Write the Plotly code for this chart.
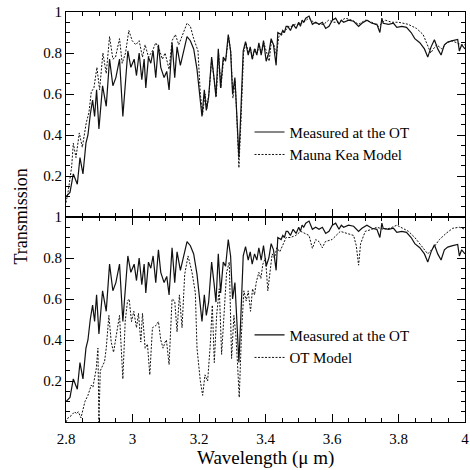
import plotly.graph_objects as go
from plotly.subplots import make_subplots

# Measured transmission at the OT (same measurement shown in both panels)
meas_wl = [2.800, 2.812, 2.822, 2.828, 2.834, 2.842, 2.851, 2.860, 2.866, 2.873, 2.880, 2.886, 2.892, 2.899,
           2.910, 2.921, 2.931, 2.941, 2.950, 2.961, 2.971, 2.986, 2.995, 3.005, 3.012, 3.020, 3.028, 3.035,
           3.040, 3.048, 3.055, 3.062, 3.070, 3.078, 3.085, 3.095, 3.103, 3.110, 3.119, 3.127, 3.134, 3.144,
           3.154, 3.164, 3.174, 3.184, 3.194, 3.204, 3.209, 3.216, 3.222, 3.229, 3.238, 3.245, 3.251, 3.258,
           3.265, 3.273, 3.280, 3.288, 3.295, 3.301, 3.308, 3.313, 3.320, 3.326, 3.333, 3.340, 3.348, 3.354,
           3.360, 3.367, 3.374, 3.380, 3.387, 3.394, 3.402, 3.410, 3.417, 3.424, 3.432, 3.437, 3.447, 3.452,
           3.457, 3.462, 3.467, 3.475, 3.483, 3.492, 3.500, 3.505, 3.510, 3.515, 3.521, 3.531, 3.541, 3.551,
           3.561, 3.571, 3.581, 3.591, 3.601, 3.611, 3.621, 3.628, 3.635, 3.650, 3.665, 3.680, 3.690, 3.705,
           3.720, 3.735, 3.744, 3.750, 3.754, 3.770, 3.785, 3.795, 3.810, 3.824, 3.838, 3.849, 3.864, 3.878,
           3.888, 3.898, 3.908, 3.918, 3.928, 3.938, 3.948, 3.963, 3.978, 3.983, 3.990, 4.000]
meas_tr = [0.10, 0.12, 0.21, 0.18, 0.16, 0.29, 0.21, 0.36, 0.40, 0.50, 0.57, 0.49, 0.62, 0.43,
           0.64, 0.54, 0.77, 0.64, 0.68, 0.77, 0.49, 0.81, 0.73, 0.77, 0.69, 0.80, 0.67, 0.77,
           0.63, 0.78, 0.75, 0.81, 0.68, 0.84, 0.73, 0.68, 0.71, 0.62, 0.85, 0.68, 0.83, 0.74,
           0.81, 0.88, 0.86, 0.82, 0.72, 0.55, 0.49, 0.62, 0.52, 0.585, 0.78, 0.68, 0.585, 0.82,
           0.63, 0.78, 0.76, 0.89, 0.81, 0.60, 0.68, 0.52, 0.29, 0.52, 0.81, 0.855, 0.79, 0.83,
           0.77, 0.82, 0.79, 0.85, 0.79, 0.86, 0.76, 0.80, 0.87, 0.84, 0.74, 0.90, 0.89, 0.91,
           0.90, 0.93, 0.93, 0.91, 0.94, 0.92, 0.95, 0.93, 0.96, 0.95, 0.97, 0.98, 0.94, 0.95,
           0.94, 0.95, 0.92, 0.93, 0.96, 0.97, 0.94, 0.96, 0.95, 0.96, 0.955, 0.93, 0.945, 0.96,
           0.945, 0.94, 0.90, 0.97, 0.945, 0.94, 0.945, 0.925, 0.93, 0.925, 0.90, 0.87, 0.85, 0.82,
           0.78, 0.83, 0.865, 0.82, 0.79, 0.84, 0.853, 0.86, 0.866, 0.81, 0.84, 0.82]

# Mauna Kea model (top panel)
mk_wl = [2.800, 2.807, 2.817, 2.822, 2.830, 2.840, 2.849, 2.861, 2.869, 2.876, 2.884, 2.893, 2.901, 2.911,
         2.921, 2.931, 2.941, 2.949, 2.961, 2.969, 2.979, 2.989, 2.999, 3.010, 3.020, 3.030, 3.038, 3.048,
         3.060, 3.070, 3.080, 3.090, 3.098, 3.110, 3.119, 3.129, 3.139, 3.149, 3.164, 3.174, 3.184, 3.197,
         3.204, 3.211, 3.218, 3.224, 3.231, 3.238, 3.246, 3.252, 3.259, 3.266, 3.274, 3.281, 3.289, 3.296,
         3.302, 3.309, 3.314, 3.320, 3.327, 3.334, 3.341, 3.349, 3.355, 3.361, 3.368, 3.375, 3.381, 3.388,
         3.395, 3.403, 3.411, 3.418, 3.425, 3.433, 3.440, 3.450, 3.460, 3.470, 3.480, 3.490, 3.500, 3.515,
         3.530, 3.545, 3.560, 3.575, 3.590, 3.605, 3.620, 3.640, 3.660, 3.680, 3.700, 3.720, 3.740, 3.760,
         3.780, 3.800, 3.829, 3.854, 3.874, 3.888, 3.897, 3.905, 3.915, 3.930, 3.945, 3.960, 3.975,
         3.990, 4.000]
mk_tr = [0.07, 0.13, 0.245, 0.36, 0.29, 0.41, 0.34, 0.46, 0.51, 0.61, 0.63, 0.73, 0.62, 0.80,
         0.70, 0.88, 0.77, 0.78, 0.87, 0.75, 0.80, 0.91, 0.86, 0.84, 0.86, 0.78, 0.84, 0.78,
         0.81, 0.85, 0.82, 0.77, 0.80, 0.72, 0.86, 0.89, 0.84, 0.88, 0.945, 0.93, 0.87, 0.81,
         0.60, 0.50, 0.60, 0.53, 0.62, 0.77, 0.66, 0.59, 0.80, 0.63, 0.77, 0.77, 0.88, 0.80,
         0.58, 0.66, 0.48, 0.24, 0.50, 0.80, 0.85, 0.80, 0.82, 0.77, 0.82, 0.80, 0.84, 0.80,
         0.85, 0.81, 0.76, 0.86, 0.84, 0.79, 0.88, 0.89, 0.91, 0.93, 0.93, 0.94, 0.94, 0.95,
         0.97, 0.95, 0.94, 0.94, 0.96, 0.95, 0.95, 0.97, 0.96, 0.94, 0.96, 0.95, 0.93, 0.96,
         0.95, 0.95, 0.94, 0.92, 0.89, 0.83, 0.80, 0.82, 0.84, 0.82, 0.85, 0.86, 0.85,
         0.84, 0.84]

# OT model (bottom panel)
ot_wl = [2.800, 2.806, 2.815, 2.826, 2.832, 2.837, 2.845, 2.857, 2.866, 2.876, 2.881, 2.891, 2.896, 2.899,
         2.903, 2.916, 2.921, 2.929, 2.936, 2.943, 2.951, 2.961, 2.971, 2.978, 2.985, 2.990, 2.997, 3.004,
         3.012, 3.018, 3.025, 3.030, 3.038, 3.045, 3.052, 3.060, 3.070, 3.078, 3.085, 3.092, 3.098, 3.102,
         3.110, 3.119, 3.127, 3.134, 3.141, 3.149, 3.157, 3.167, 3.179, 3.189, 3.194, 3.204, 3.211, 3.218,
         3.226, 3.234, 3.240, 3.246, 3.253, 3.261, 3.268, 3.276, 3.283, 3.291, 3.298, 3.305, 3.311, 3.316,
         3.321, 3.328, 3.335, 3.342, 3.348, 3.355, 3.361, 3.367, 3.372, 3.380, 3.386, 3.392, 3.400, 3.407,
         3.412, 3.420, 3.427, 3.434, 3.443, 3.452, 3.462, 3.475, 3.491, 3.506, 3.521, 3.531, 3.541, 3.551,
         3.561, 3.571, 3.580, 3.600, 3.625, 3.645, 3.665, 3.673, 3.680, 3.686, 3.700, 3.720, 3.735, 3.755,
         3.774, 3.795, 3.814, 3.830, 3.849, 3.864, 3.879, 3.888, 3.905, 3.923, 3.943, 3.963, 3.983, 4.000]
ot_tr = [0.00, 0.02, 0.03, 0.05, 0.04, 0.05, 0.02, 0.10, 0.13, 0.18, 0.17, 0.26, 0.36, 0.00,
         0.25, 0.295, 0.36, 0.52, 0.39, 0.34, 0.42, 0.52, 0.21, 0.49, 0.59, 0.60, 0.49, 0.54,
         0.46, 0.53, 0.39, 0.53, 0.36, 0.38, 0.23, 0.46, 0.47, 0.49, 0.40, 0.36, 0.39, 0.40,
         0.28, 0.60, 0.59, 0.44, 0.62, 0.46, 0.72, 0.81, 0.73, 0.63, 0.36, 0.20, 0.13, 0.23,
         0.20, 0.38, 0.57, 0.29, 0.52, 0.65, 0.33, 0.55, 0.73, 0.78, 0.31, 0.52, 0.42, 0.28,
         0.12, 0.44, 0.64, 0.59, 0.64, 0.54, 0.65, 0.62, 0.68, 0.73, 0.70, 0.77, 0.80, 0.64,
         0.72, 0.82, 0.80, 0.85, 0.83, 0.86, 0.90, 0.90, 0.91, 0.93, 0.92, 0.91, 0.847, 0.89,
         0.88, 0.85, 0.88, 0.89, 0.93, 0.92, 0.91, 0.86, 0.765, 0.87, 0.93, 0.94, 0.95, 0.94,
         0.945, 0.96, 0.945, 0.93, 0.90, 0.87, 0.84, 0.82, 0.85, 0.89, 0.92, 0.945, 0.95, 0.94]

x_tickvals = [2.8, 3.0, 3.2, 3.4, 3.6, 3.8, 4.0]
x_ticktext = ["2.8", "3", "3.2", "3.4", "3.6", "3.8", "4"]
y_tickvals = [0.2, 0.4, 0.6, 0.8, 1.0]
y_ticktext = ["0.2", "0.4", "0.6", "0.8", "1"]

FONT = "Liberation Serif"
solid = dict(color="#111111", width=1.2)
dotted = dict(color="#111111", width=1, dash="2px,1.5px")

fig = make_subplots(rows=2, cols=1, shared_xaxes=True, vertical_spacing=0)

fig.add_trace(go.Scatter(x=meas_wl, y=meas_tr, mode="lines", line=solid,
                         name="Measured at the OT", legend="legend"), row=1, col=1)
fig.add_trace(go.Scatter(x=mk_wl, y=mk_tr, mode="lines", line=dotted,
                         name="Mauna Kea Model", legend="legend"), row=1, col=1)
fig.add_trace(go.Scatter(x=meas_wl, y=meas_tr, mode="lines", line=solid,
                         name="Measured at the OT", legend="legend2"), row=2, col=1)
fig.add_trace(go.Scatter(x=ot_wl, y=ot_tr, mode="lines", line=dotted,
                         name="OT Model", legend="legend2"), row=2, col=1)

axis_common = dict(showline=True, linecolor="black", linewidth=1, mirror="allticks",
                   ticks="inside", ticklen=8, tickcolor="black", tickwidth=1,
                   showgrid=False, zeroline=False,
                   tickfont=dict(family=FONT, size=15, color="black"))

for r in (1, 2):
    fig.update_xaxes(range=[2.8, 4.0], tickvals=x_tickvals, ticktext=x_ticktext,
                     minor=dict(ticks="inside", dtick=0.05, tick0=2.8, ticklen=4,
                                tickcolor="black", showgrid=False),
                     showticklabels=(r == 2), ticklabelstandoff=3, ticklabeloverflow="allow",
                     row=r, col=1, **axis_common)
    fig.update_yaxes(range=[0, 1], tickvals=y_tickvals, ticktext=y_ticktext,
                     minor=dict(ticks="inside", dtick=0.05, tick0=0, ticklen=4,
                                tickcolor="black", showgrid=False),
                     row=r, col=1, **axis_common)

legend_style = dict(font=dict(family=FONT, size=15, color="black"), bgcolor="rgba(0,0,0,0)",
                    borderwidth=0, xanchor="left", yanchor="top", tracegroupgap=0,
                    itemwidth=30)

fig.update_layout(
    width=470, height=470,
    margin=dict(l=66, r=1, t=12, b=48),
    paper_bgcolor="white", plot_bgcolor="white",
    showlegend=True,
    legend=dict(x=0.46, y=0.747, **legend_style),
    legend2=dict(x=0.46, y=0.252, **legend_style),
    annotations=[
        dict(text="Transmission", xref="paper", yref="paper", x=-0.114, y=0.5,
             textangle=-90, showarrow=False, xanchor="center", yanchor="middle",
             font=dict(family=FONT, size=18, color="black")),
        dict(text="Wavelength (\u03bc m)", xref="paper", yref="paper", x=0.5, y=-0.087,
             showarrow=False, xanchor="center", yanchor="middle",
             font=dict(family=FONT, size=19, color="black")),
    ],
)

# remove the browser's default 8px body margin so the 470x470 figure fills the window
fig.write_html("out.html", config={"displayModeBar": False},
               post_script="document.body.style.margin='0px';")
